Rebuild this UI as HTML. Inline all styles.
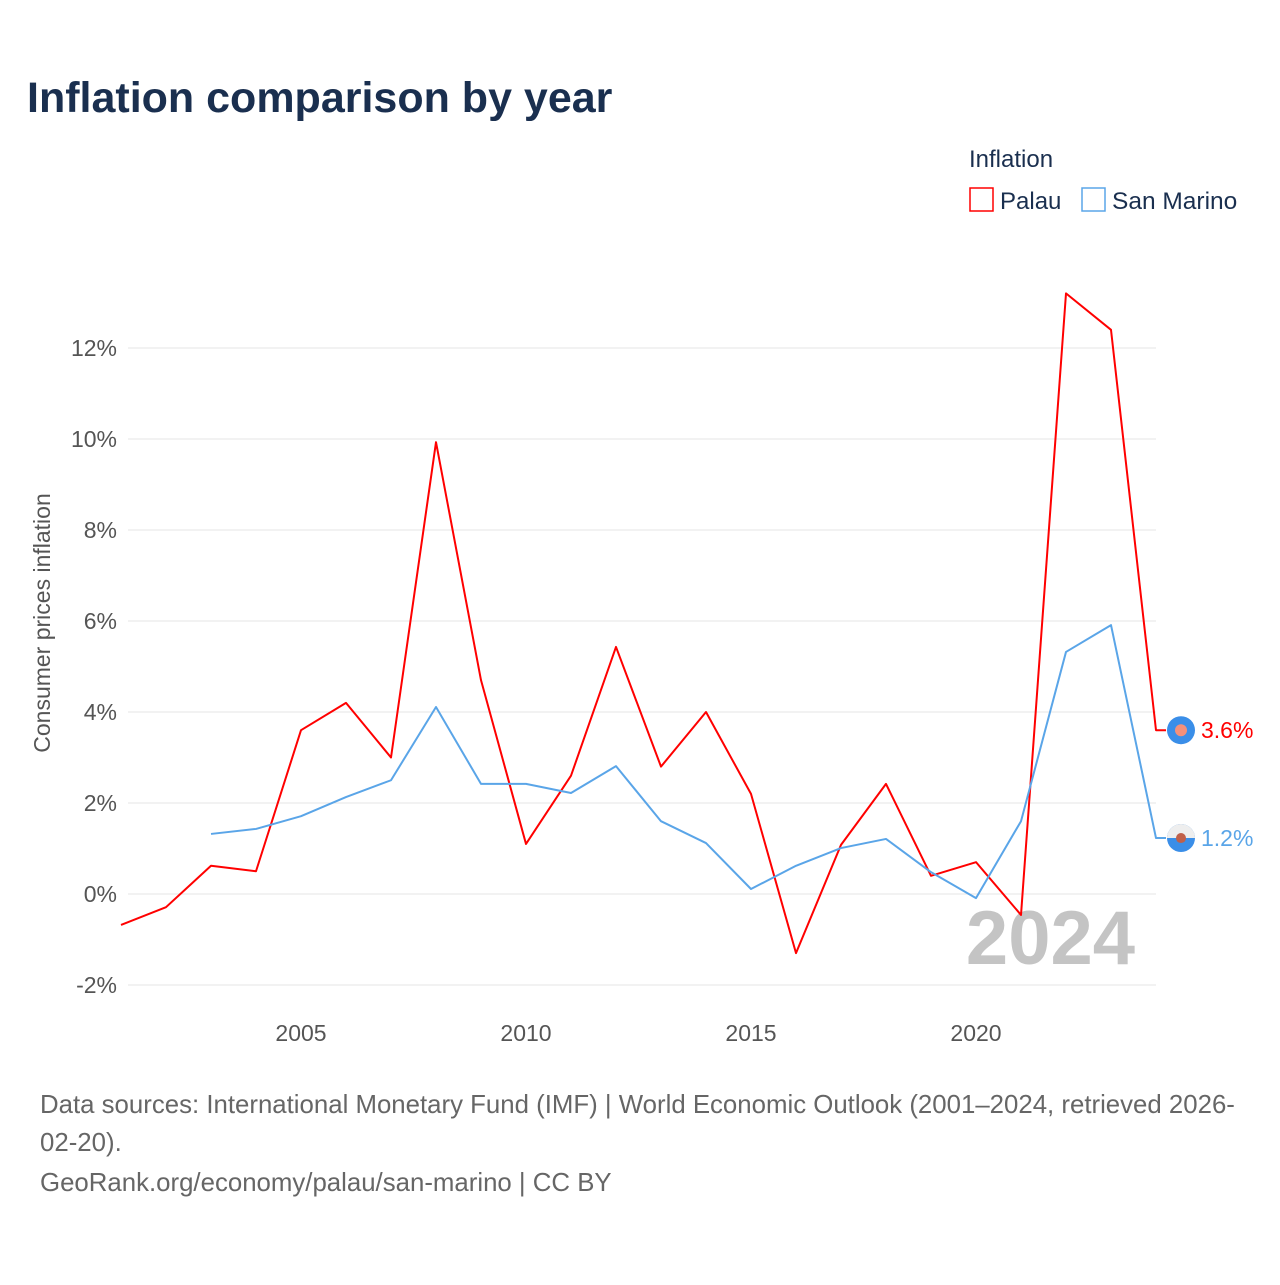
<!DOCTYPE html>
<html><head><meta charset="utf-8"><style>
body{margin:0;background:#fff;font-family:"Liberation Sans",sans-serif;}
svg text{font-family:"Liberation Sans",sans-serif;}
</style></head><body>
<svg id="c" width="1280" height="1280" xmlns="http://www.w3.org/2000/svg">
<text x="27" y="112" font-size="43" font-weight="bold" fill="#1a2f4f">Inflation comparison by year</text>
<text x="969" y="167" font-size="24" fill="#1a2f4f">Inflation</text>
<g><rect x="970" y="188" width="23" height="23" fill="none" stroke="#ff0000" stroke-width="1.5"/><text x="1000" y="209" font-size="24" fill="#1a2f4f">Palau</text></g>
<g><rect x="1082" y="188" width="23" height="23" fill="none" stroke="#5aa5e8" stroke-width="1.5"/><text x="1112" y="209" font-size="24.5" fill="#1a2f4f">San Marino</text></g>
<g id="grid"></g><g id="yt"></g><g id="xt"></g>
<text transform="translate(50,623) rotate(-90)" text-anchor="middle" font-size="23" fill="#555">Consumer prices inflation</text>
<text x="1135" y="964" text-anchor="end" font-size="76" font-weight="bold" fill="#c4c4c4">2024</text>
<g id="series"></g>
<text x="40" y="1113" font-size="25.8" fill="#666">Data sources: International Monetary Fund (IMF) | World Economic Outlook (2001–2024, retrieved 2026-</text>
<text x="40" y="1151" font-size="25.8" fill="#666">02-20).</text>
<text x="40" y="1191" font-size="25.8" fill="#666">GeoRank.org/economy/palau/san-marino | CC BY</text>
</svg>
<script>
const years=[2001,2002,2003,2004,2005,2006,2007,2008,2009,2010,2011,2012,2013,2014,2015,2016,2017,2018,2019,2020,2021,2022,2023,2024];
const palau=[-0.68,-0.29,0.62,0.5,3.6,4.2,3.0,9.93,4.7,1.1,2.6,5.43,2.8,4.0,2.2,-1.3,1.08,2.42,0.4,0.7,-0.46,13.2,12.4,3.6];
const sanMarino=[null,null,1.32,1.43,1.71,2.13,2.5,4.11,2.42,2.42,2.22,2.81,1.6,1.12,0.11,0.62,1.01,1.21,0.48,-0.09,1.6,5.32,5.91,1.23];
const yTicks=[-2,0,2,4,6,8,10,12];
const xTicks=[2005,2010,2015,2020];
const NS="http://www.w3.org/2000/svg";
const x=v=>121+(v-2001)*45;
const y=v=>894-v*45.5;
function mk(t,a,p){const e=document.createElementNS(NS,t);for(const k in a)e.setAttribute(k,a[k]);document.getElementById(p).appendChild(e);return e;}
yTicks.forEach(t=>{
 const l=mk('line',{x1:128,x2:1156,y1:y(t),y2:y(t),stroke:'#e6e6e6','stroke-width':1},'grid');
 
 
 const tx=mk('text',{x:117,y:y(t)+8,'text-anchor':'end','font-size':23,fill:'#555'},'yt');
 tx.textContent=t+'%';
 
 
});
xTicks.forEach(t=>{
 const tx=mk('text',{x:x(t),y:1041,'text-anchor':'middle','font-size':23,fill:'#555'},'xt');
 tx.textContent=t;
 
 
});
function line(vals,color,name){
 let d='';vals.forEach((v,i)=>{if(v==null)return;d+=(d?'L':'M')+x(years[i])+','+y(v);});
 const last=vals[vals.length-1];
 d+='L'+(x(2024)+10)+','+y(last);
 const p=mk('path',{d:d,fill:'none',stroke:color,'stroke-width':2,'stroke-linejoin':'round'},'series');
 
 
 return last;
}
const lp=line(palau,'#ff0000','palau');
const ls=line(sanMarino,'#5aa5e8','san-marino');
let m=mk('circle',{cx:1181,cy:y(lp),r:14,fill:'#3a8ee8'},'series');


mk('circle',{cx:1181,cy:y(lp),r:6,fill:'#f4907a'},'series');
m=mk('circle',{cx:1181,cy:y(ls),r:14,fill:'#3a8ee8'},'series');


mk('path',{d:`M1167,${y(ls)} a14,14 0 0 1 28,0 z`,fill:'#eeeeee'},'series');
mk('circle',{cx:1181,cy:y(ls),r:5,fill:'#c0604a'},'series');
let t=mk('text',{x:1201,y:y(lp)+8,'font-size':23,fill:'#ff0000'},'series');
t.textContent=lp.toFixed(1)+'%';


t=mk('text',{x:1201,y:y(ls)+8,'font-size':23,fill:'#5aa5e8'},'series');
t.textContent=ls.toFixed(1)+'%';


</script>
</body></html>
